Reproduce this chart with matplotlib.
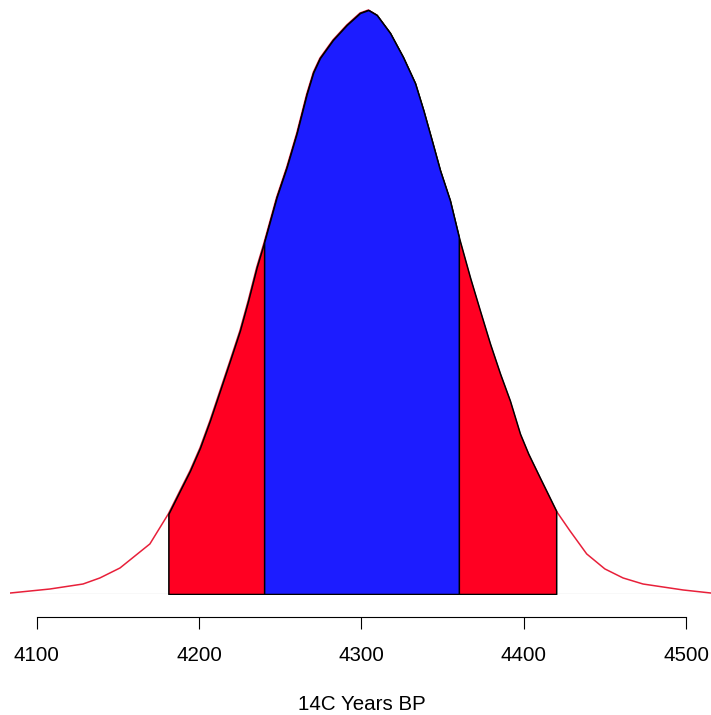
import numpy as np
import matplotlib.pyplot as plt

plt.rcParams['font.family'] = ['Liberation Sans', 'DejaVu Sans']

# calibrated date density, density x 1000
years = np.array([4083.4, 4108.0, 4128.4, 4138.8, 4151.2, 4169.6, 4181.0, 4188.1, 4194.3, 4200.5,
                  4206.6, 4212.8, 4219.0, 4225.1, 4230.2, 4235.4, 4240.0, 4247.7, 4253.9, 4260.1,
                  4266.2, 4270.3, 4274.4, 4282.4, 4290.9, 4299.1, 4304.2, 4309.4, 4317.6,
                  4325.6, 4333.0, 4338.1, 4343.3, 4348.4, 4354.5, 4360.0, 4366.9, 4373.0, 4379.2,
                  4385.4, 4391.5, 4397.7, 4402.8, 4410.0, 4420.0, 4428.5, 4438.8, 4450.0, 4461.2,
                  4473.5, 4498.2, 4515.4])
density = np.array([0.011, 0.057, 0.114, 0.183, 0.297, 0.571, 0.914, 1.177, 1.405, 1.668,
                    1.977, 2.319, 2.662, 3.005, 3.348, 3.725, 4.010, 4.525, 4.867, 5.256,
                    5.700, 5.950, 6.113, 6.319, 6.490, 6.627, 6.661, 6.604, 6.399,
                    6.124, 5.827, 5.519, 5.176, 4.833, 4.490, 4.070, 3.611, 3.234, 2.857,
                    2.514, 2.205, 1.828, 1.600, 1.325, 0.948, 0.720, 0.457, 0.286, 0.183,
                    0.114, 0.046, 0.011])

range_95 = (4181, 4420)
range_68 = (4240, 4360)
xticks = [4100, 4200, 4300, 4400, 4500]
xlabel = '14C Years BP'

W, H = 711, 715
fig = plt.figure(figsize=(W / 100, H / 100), dpi=100)
ax = fig.add_axes([10 / W, (H - 594) / H, 701 / W, 594 / H])

ax.axhline(0, color='#e0e0e0', lw=1, zorder=1)
ax.plot(years, density, color='#e8203a', lw=1.1, zorder=2)

m95 = (years >= range_95[0]) & (years <= range_95[1])
ax.fill_between(years[m95], density[m95], 0, facecolor='#ff0022',
                edgecolor='black', lw=1.1, zorder=3)
m68 = (years >= range_68[0]) & (years <= range_68[1])
ax.fill_between(years[m68], density[m68], 0, facecolor='#1c1cff',
                edgecolor='black', lw=1.1, zorder=4)

ax.set_xlim(4083.4, 4515.4)
ax.set_ylim(0, density.max() * 594 / 584)

for s in ['top', 'left', 'right']:
    ax.spines[s].set_visible(False)
ax.spines['bottom'].set_position(('outward', 16.5))
ax.spines['bottom'].set_bounds(xticks[0], xticks[-1])
ax.spines['bottom'].set_linewidth(0.8)
ax.set_yticks([])
ax.set_xticks(xticks)
ax.tick_params(axis='x', length=8.6, width=0.8, pad=12, labelsize=14.8)

fig.text(362 / W, (H - 704.5) / H, xlabel, ha='center', va='center', fontsize=14.8)

fig.savefig('out.png', dpi=100)
